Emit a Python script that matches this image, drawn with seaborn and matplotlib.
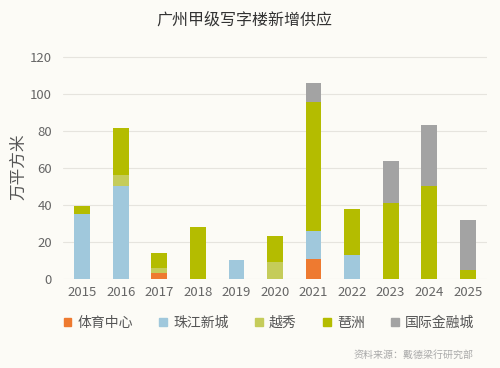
import matplotlib
matplotlib.use("Agg")
import matplotlib.pyplot as plt
import seaborn as sns
import pandas as pd
import numpy as np

years = ["2015", "2016", "2017", "2018", "2019", "2020", "2021", "2022", "2023", "2024", "2025"]
series_names = ["体育中心", "珠江新城", "越秀", "琶洲", "国际金融城"]
tiyu = [0, 0, 3, 0, 0, 0, 10.5, 0, 0, 0, 0]
zhujiang = [35, 50, 0, 0, 10, 0, 15.5, 13, 0, 0, 0]
yuexiu = [0, 6, 3, 0, 0, 9, 0, 0, 0, 0, 0]
pazhou = [4.5, 25.5, 8, 28.2, 0, 14, 69.5, 25, 41, 50, 5]
ifc = [0, 0, 0, 0, 0, 0, 10.5, 0, 22.5, 33, 27]
colors = ["#EE7A30", "#A0C8DC", "#C5CC5A", "#B4BC00", "#A3A3A3"]
yticks = [0, 20, 40, 60, 80, 100, 120]

bg = "#FCFBF6"
sns.set_theme(style="white")
plt.rcParams['font.family'] = ['Noto Sans CJK SC', 'DejaVu Sans']

fig = plt.figure(figsize=(5.0, 3.68), dpi=100, facecolor=bg)
ax = fig.add_axes([0.126, 0.242, 0.848, 0.609])
ax.set_facecolor(bg)

data = [tiyu, zhujiang, yuexiu, pazhou, ifc]
cum = np.cumsum(np.array(data, dtype=float), axis=0)
# draw cumulative totals from the top series down so lower segments overlay
for i in range(len(series_names) - 1, -1, -1):
    tmp = pd.DataFrame({"year": years, "v": cum[i]})
    sns.barplot(data=tmp, x="year", y="v", color=colors[i], width=0.41,
                saturation=1, ax=ax, linewidth=0, zorder=3)

handles = [plt.Rectangle((0, 0), 1, 1, color=colors[i], label=name)
           for i, name in enumerate(series_names)]

ax.set_ylim(0, 121)
ax.set_xlim(-0.5, 10.5)
ax.set_yticks(yticks)
ax.yaxis.grid(True, color="#E6E4DE", linewidth=0.8, zorder=0)
ax.set_axisbelow(True)
for s in ax.spines.values():
    s.set_visible(False)
ax.set_xlabel("")
ax.set_ylabel("万平方米", fontsize=12, color="#555555", labelpad=2)
ax.tick_params(axis="both", length=0, labelsize=9.5, labelcolor="#666666")
ax.tick_params(axis="x", pad=5)
ax.tick_params(axis="y", pad=8)

fig.text(0.488, 0.945, "广州甲级写字楼新增供应", ha="center", va="center",
         fontsize=11.5, color="#333333")

leg = fig.legend(handles=handles, loc="center", bbox_to_anchor=(0.538, 0.122),
                 ncol=5, frameon=False, fontsize=10, handlelength=0.55,
                 handleheight=0.55, columnspacing=1.9, handletextpad=0.45,
                 labelcolor="#555555")

fig.text(0.948, 0.035, "资料来源：戴德梁行研究部", ha="right", va="center",
         fontsize=7.2, color="#AAAAAA")

fig.savefig("out.png", dpi=100, facecolor=bg)
